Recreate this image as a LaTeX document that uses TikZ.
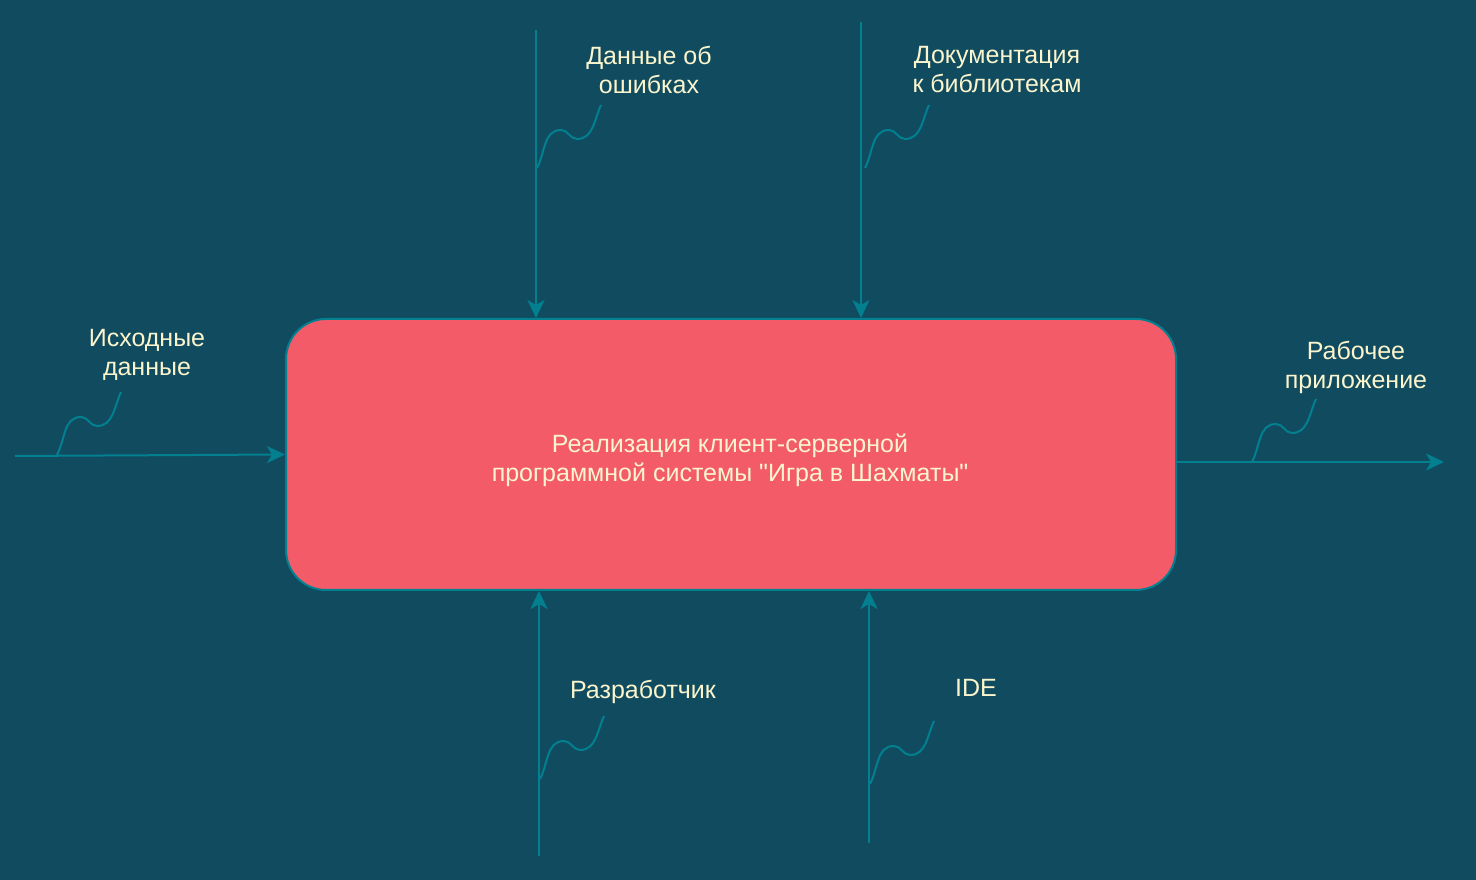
\documentclass[tikz,border=0pt]{standalone}
\usepackage{fontspec}
\setmainfont{Liberation Sans}[Ligatures=TeXOff]
\usetikzlibrary{arrows.meta}
\definecolor{bgc}{HTML}{114B5F}
\definecolor{boxfill}{HTML}{F45B69}
\definecolor{teal}{HTML}{028090}
\definecolor{txt}{HTML}{FAF5CD}
\tikzset{
  conn/.style={draw=teal, line width=2pt, -{Stealth[length=18pt,width=17pt,inset=5pt]}},
  squig/.style={draw=teal, line width=2pt},
  lbl/.style={text=txt, font=\fontsize{25}{29}\selectfont, align=center, inner sep=0pt},
  mainbox/.style={draw=teal, line width=2pt, fill=boxfill, rounded corners=40pt,
     minimum width=890pt, minimum height=271pt, inner sep=0pt},
}
\newcommand{\squiggle}[1]{%
  \draw[squig] (#1) to[out=62,in=180] ++(24pt,38pt) to[out=0,in=180] ++(16pt,-9pt) to[out=0,in=-115] ++(24pt,34pt);}
\begin{document}
\begin{tikzpicture}[x=1pt,y=1pt]
\fill[bgc] (0,0) rectangle (1476,880);
\useasboundingbox (0,0) rectangle (1476,880);

\node[mainbox] (main) at (731,425.5) {};
\node[lbl] (maintxt) at (730,420) {Реализация клиент-серверной\\программной системы "Игра в Шахматы"};

\coordinate (t1) at (536,850);
\coordinate (t2) at (861,858);
\coordinate (b1) at (539,24);
\coordinate (b2) at (869,37);
\coordinate (l1) at (15,424);
\coordinate (r1) at (1444,418);

\draw[conn] (t1) -- (t1 |- main.north);
\draw[conn] (t2) -- (t2 |- main.north);
\draw[conn] (b1) -- (b1 |- main.south);
\draw[conn] (b2) -- (b2 |- main.south);
\draw[conn] (l1) -- (main.west);
\draw[conn] (main.east |- r1) -- (r1);

\coordinate (s1) at (537,712);
\coordinate (s2) at (865,712);
\coordinate (s3) at (57,425);
\coordinate (s4) at (1252,418);
\coordinate (s5) at (540,101);
\coordinate (s6) at (870,96);
\squiggle{s1}
\squiggle{s2}
\squiggle{s3}
\squiggle{s4}
\squiggle{s5}
\squiggle{s6}

\node[lbl] (n1) at (649,810) {Данные об\\ошибках};
\node[lbl] (n2) at (997,810) {Документация\\к библиотекам};
\node[lbl] (n3) at (147,525) {Исходные\\данные};
\node[lbl] (n4) at (1356,513) {Рабочее\\приложение};
\node[lbl] (n5) at (643,188) {Разработчик};
\node[lbl] (n6) at (976,192) {IDE};
\end{tikzpicture}
\end{document}
